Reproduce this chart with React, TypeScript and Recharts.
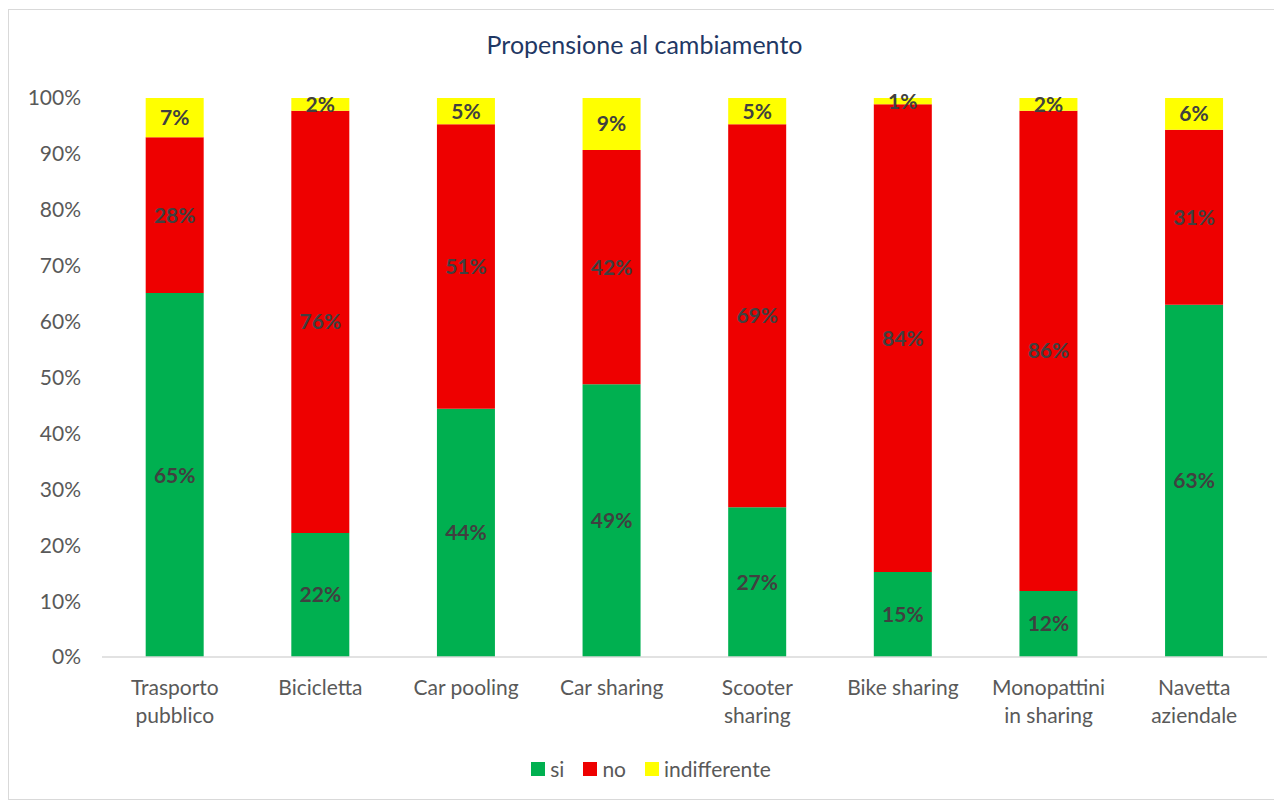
import React from "react";
import { BarChart, Bar, XAxis, YAxis, Legend, LabelList } from "recharts";

const categories = [
  "Trasporto pubblico",
  "Bicicletta",
  "Car pooling",
  "Car sharing",
  "Scooter sharing",
  "Bike sharing",
  "Monopattini in sharing",
  "Navetta aziendale",
];
const tickLines: string[][] = [
  ["Trasporto", "pubblico"],
  ["Bicicletta"],
  ["Car pooling"],
  ["Car sharing"],
  ["Scooter", "sharing"],
  ["Bike sharing"],
  ["Monopattini", "in sharing"],
  ["Navetta", "aziendale"],
];
const siValues = [65.1, 22.2, 44.4, 48.8, 26.8, 15.2, 11.8, 63.0];
const noValues = [27.9, 75.5, 50.9, 41.9, 68.5, 83.7, 85.9, 31.3];
const indValues = [7.0, 2.3, 4.7, 9.3, 4.7, 1.1, 2.3, 5.7];
const yTicks = [0, 10, 20, 30, 40, 50, 60, 70, 80, 90, 100];

const seriesNames = ["si", "no", "indifferente"];
const seriesColors = ["#00B050", "#EE0000", "#FFFF00"];

const data = categories.map((c, i) => ({
  name: c,
  si: siValues[i],
  no: noValues[i],
  indifferente: indValues[i],
}));

const FONT = "Lato, 'Open Sans', sans-serif";

const XTick = (props: any) => {
  const { x, y, index } = props;
  const lines = tickLines[index] || [];
  return (
    <text x={x} y={y} textAnchor="middle" fill="#595959" fontSize={21} fontFamily={FONT}>
      {lines.map((l, i) => (
        <tspan key={i} x={x} y={y + 30 + i * 28}>
          {l}
        </tspan>
      ))}
    </text>
  );
};

const LegendContent = () => (
  <div
    style={{
      display: "flex",
      justifyContent: "center",
      alignItems: "center",
      fontFamily: FONT,
      fontSize: 21,
      color: "#595959",
      paddingLeft: 26,
    }}
  >
    {seriesNames.map((n, i) => (
      <div key={n} style={{ display: "flex", alignItems: "center", marginRight: i < 2 ? 19 : 0 }}>
        <span
          style={{
            display: "inline-block",
            width: 14,
            height: 14,
            background: seriesColors[i],
            marginRight: 5,
          }}
        />
        <span>{n}</span>
      </div>
    ))}
  </div>
);

const fmt = (v: any) => `${Math.round(Number(v))}%`;

export default function App() {
  return (
    <div
      style={{
        width: 1271,
        height: 789,
        border: "1px solid #D9D9D9",
        marginTop: 1,
        position: "relative",
        background: "#fff",
      }}
    >
      <div
        style={{
          position: "absolute",
          top: 19,
          left: 0,
          width: "100%",
          textAlign: "center",
          fontFamily: FONT,
          fontSize: 25,
          color: "#1F3864",
        }}
      >
        Propensione al cambiamento
      </div>
      <BarChart
        width={1271}
        height={789}
        data={data}
        margin={{ top: 88, right: 13, bottom: 10, left: 0 }}
        barCategoryGap="30%"
      >
        <XAxis
          dataKey="name"
          tickLine={false}
          axisLine={{ stroke: "#D9D9D9", strokeWidth: 1.5 }}
          tick={<XTick />}
          interval={0}
          height={107}
        />
        <YAxis
          width={93}
          domain={[0, 100]}
          ticks={yTicks}
          tickFormatter={(v: number) => `${v}%`}
          axisLine={false}
          tickLine={false}
          tickMargin={15}
          tick={{ fill: "#595959", fontSize: 21, fontFamily: FONT }}
          interval={0}
        />
        <Legend verticalAlign="bottom" content={<LegendContent />} wrapperStyle={{ bottom: 18 }} />
        {seriesNames.map((n, i) => (
          <Bar key={n} dataKey={n} stackId="a" fill={seriesColors[i]} isAnimationActive={false}>
            <LabelList
              dataKey={n}
              position="center"
              formatter={fmt}
              fill="#404040"
              fontSize={21}
              fontWeight="bold"
              fontFamily={FONT}
            />
          </Bar>
        ))}
      </BarChart>
    </div>
  );
}
